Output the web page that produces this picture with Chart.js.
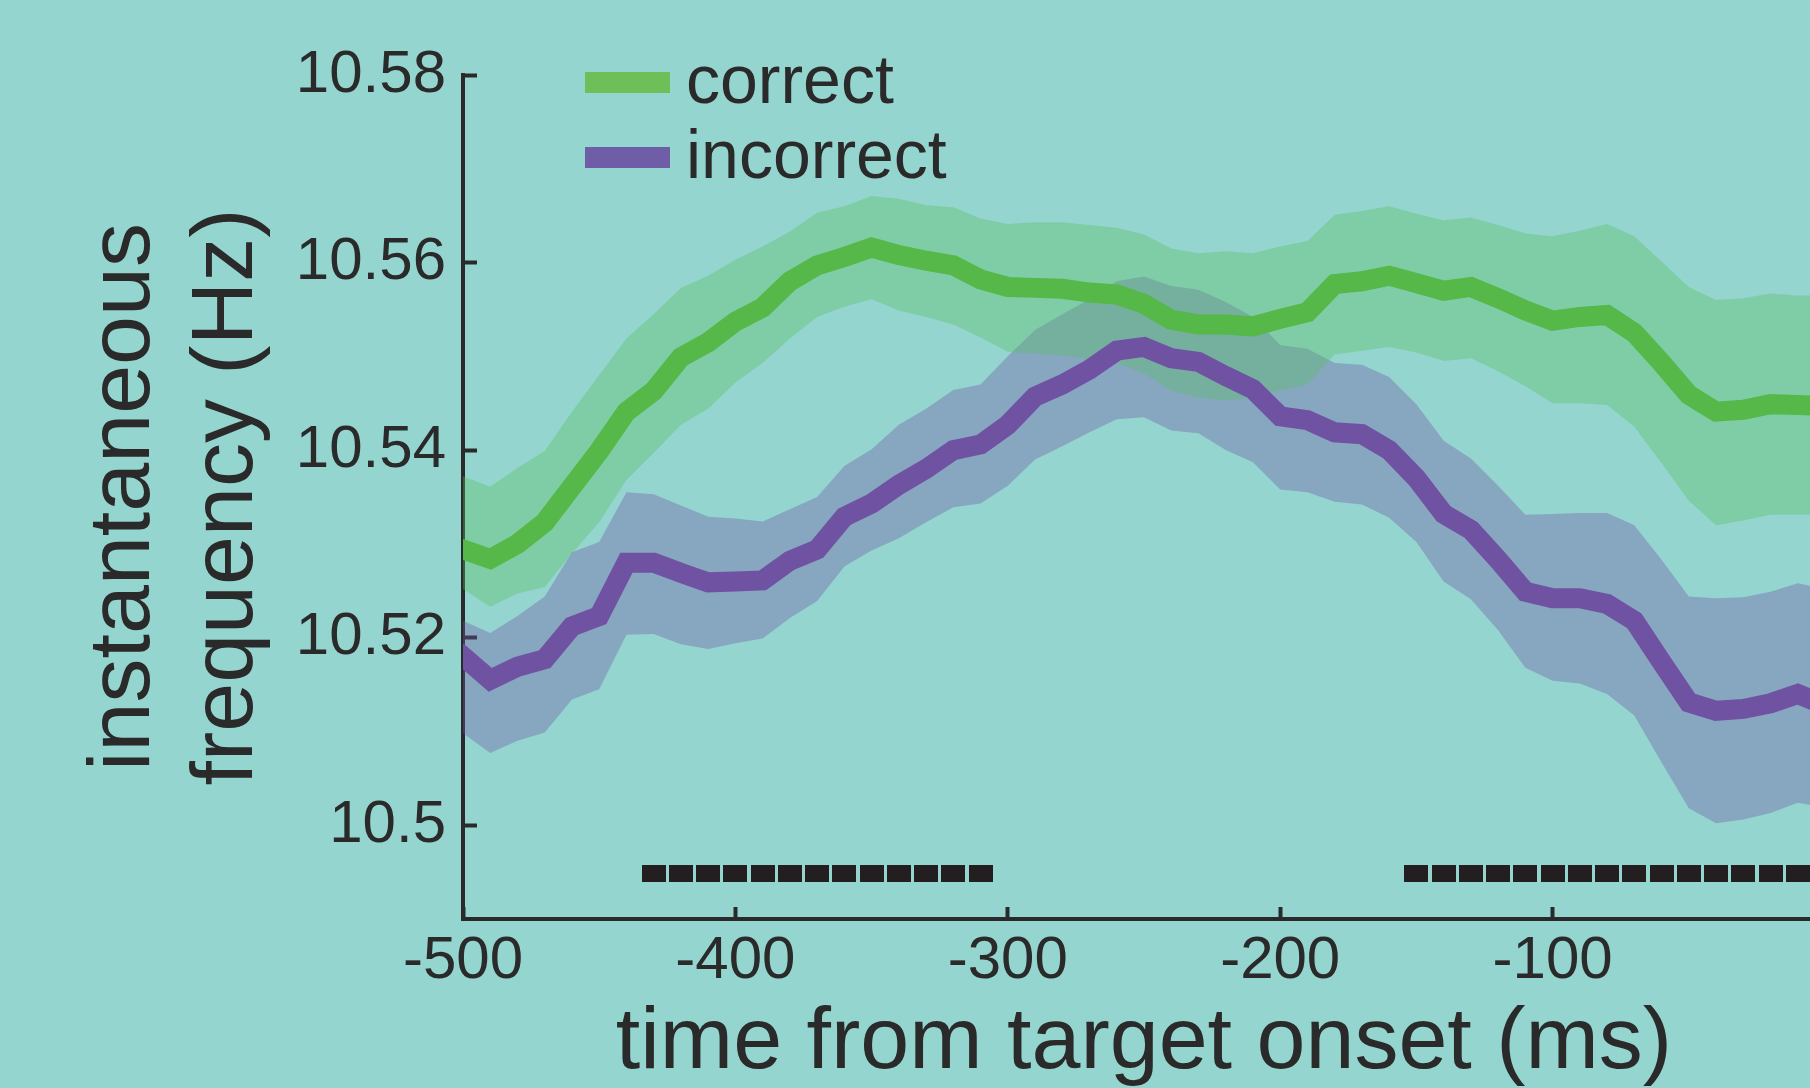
<!DOCTYPE html>
<html>
<head>
<meta charset="utf-8">
<title>instantaneous frequency</title>
<script src="https://cdn.jsdelivr.net/npm/chart.js@4.4.1/dist/chart.umd.min.js"></script>
<style>
  html, body { margin: 0; padding: 0; background: #95d5cf; overflow: hidden; }
  #chart { position: absolute; left: 0; top: 0; }
</style>
</head>
<body>
<canvas id="chart" width="1900" height="1088"></canvas>
<script>
// sample times (ms from target onset), 10 ms steps
var times = [-500, -490, -480, -470, -460, -450, -440, -430, -420, -410,
             -400, -390, -380, -370, -360, -350, -340, -330, -320, -310,
             -300, -290, -280, -270, -260, -250, -240, -230, -220, -210,
             -200, -190, -180, -170, -160, -150, -140, -130, -120, -110,
             -100, -90, -80, -70, -60, -50, -40, -30, -20, -10, 0];

var correctMean = [10.5294, 10.5284, 10.5300, 10.5323, 10.5361, 10.5399, 10.5441, 10.5463, 10.5499, 10.5515,
                   10.5537, 10.5552, 10.5580, 10.5597, 10.5606, 10.5616, 10.5608, 10.5602, 10.5597, 10.5582,
                   10.5574, 10.5573, 10.5572, 10.5568, 10.5566, 10.5556, 10.5539, 10.5534, 10.5534, 10.5532,
                   10.5540, 10.5547, 10.5577, 10.5580, 10.5586, 10.5578, 10.5570, 10.5574, 10.5562, 10.5549,
                   10.5538, 10.5542, 10.5544, 10.5525, 10.5493, 10.5459, 10.5441, 10.5443, 10.5449, 10.5448, 10.5447];
var correctUpper = [10.5372, 10.5361, 10.5381, 10.5399, 10.5441, 10.5480, 10.5519, 10.5545, 10.5573, 10.5586,
                    10.5603, 10.5617, 10.5633, 10.5653, 10.5660, 10.5671, 10.5668, 10.5661, 10.5659, 10.5647,
                    10.5641, 10.5643, 10.5643, 10.5640, 10.5637, 10.5630, 10.5615, 10.5610, 10.5612, 10.5610,
                    10.5617, 10.5623, 10.5651, 10.5655, 10.5660, 10.5652, 10.5645, 10.5648, 10.5640, 10.5631,
                    10.5628, 10.5634, 10.5641, 10.5628, 10.5601, 10.5574, 10.5560, 10.5562, 10.5567, 10.5565, 10.5565];
var correctLower = [10.5252, 10.5233, 10.5247, 10.5254, 10.5290, 10.5323, 10.5368, 10.5397, 10.5427, 10.5444,
                    10.5472, 10.5493, 10.5519, 10.5542, 10.5553, 10.5561, 10.5549, 10.5542, 10.5534, 10.5520,
                    10.5505, 10.5503, 10.5501, 10.5497, 10.5493, 10.5482, 10.5463, 10.5456, 10.5453, 10.5456,
                    10.5464, 10.5470, 10.5502, 10.5506, 10.5510, 10.5504, 10.5495, 10.5498, 10.5484, 10.5468,
                    10.5450, 10.5450, 10.5448, 10.5425, 10.5386, 10.5346, 10.5320, 10.5325, 10.5331, 10.5331, 10.5331];

var incorrectMean = [10.5180, 10.5155, 10.5169, 10.5177, 10.5212, 10.5223, 10.5280, 10.5280, 10.5269, 10.5259,
                     10.5260, 10.5261, 10.5282, 10.5294, 10.5329, 10.5343, 10.5363, 10.5380, 10.5400, 10.5406,
                     10.5427, 10.5457, 10.5470, 10.5486, 10.5506, 10.5510, 10.5498, 10.5494, 10.5479, 10.5465,
                     10.5436, 10.5432, 10.5419, 10.5417, 10.5400, 10.5370, 10.5332, 10.5315, 10.5283, 10.5249,
                     10.5242, 10.5242, 10.5236, 10.5218, 10.5174, 10.5131, 10.5122, 10.5124, 10.5130, 10.5140, 10.5128];
var incorrectUpper = [10.5218, 10.5205, 10.5223, 10.5244, 10.5291, 10.5302, 10.5355, 10.5353, 10.5341, 10.5329,
                      10.5327, 10.5324, 10.5337, 10.5350, 10.5383, 10.5401, 10.5427, 10.5444, 10.5464, 10.5470,
                      10.5500, 10.5528, 10.5545, 10.5561, 10.5580, 10.5585, 10.5575, 10.5571, 10.5558, 10.5542,
                      10.5512, 10.5508, 10.5493, 10.5491, 10.5478, 10.5449, 10.5410, 10.5391, 10.5362, 10.5331,
                      10.5332, 10.5333, 10.5333, 10.5320, 10.5283, 10.5244, 10.5242, 10.5243, 10.5249, 10.5258, 10.5252];
var incorrectLower = [10.5098, 10.5077, 10.5090, 10.5099, 10.5134, 10.5145, 10.5203, 10.5204, 10.5193, 10.5188,
                      10.5194, 10.5199, 10.5221, 10.5239, 10.5276, 10.5293, 10.5306, 10.5323, 10.5339, 10.5343,
                      10.5362, 10.5390, 10.5404, 10.5419, 10.5433, 10.5435, 10.5421, 10.5418, 10.5400, 10.5387,
                      10.5358, 10.5355, 10.5345, 10.5342, 10.5328, 10.5302, 10.5260, 10.5241, 10.5208, 10.5168,
                      10.5154, 10.5151, 10.5140, 10.5117, 10.5067, 10.5018, 10.5002, 10.5006, 10.5013, 10.5024, 10.5019];

// significant time points (black squares)
var sigTimes = [-430, -420, -410, -400, -390, -380, -370, -360, -350, -340, -330, -320, -310,
                -150, -140, -130, -120, -110, -100, -90, -80, -70, -60, -50, -40, -30, -20, -10, 0];
var sigLevel = 10.4948;

var seriesNames = ['correct', 'incorrect'];
var xTicks = [-500, -400, -300, -200, -100, 0];
var xTickLabels = ['-500', '-400', '-300', '-200', '-100', '0'];
var yTicks = [10.5, 10.52, 10.54, 10.56, 10.58];
var yTickLabels = ['10.5', '10.52', '10.54', '10.56', '10.58'];

var ink = '#2a2a2a';
var fontFamily = "'Liberation Sans', Arial, Helvetica, sans-serif";

function pts(vals) {
    return times.map(function (t, i) { return { x: t, y: vals[i] }; });
}

// little black bar used as marker
var sigMark = document.createElement('canvas');
sigMark.width = 24;
sigMark.height = 17;
var mctx = sigMark.getContext('2d');
mctx.fillStyle = '#231f20';
mctx.fillRect(0, 0, 24, 17);

var legendBoxes = {
    id: 'legendBoxes',
    afterDraw: function (chart) {
        var ctx = chart.ctx, area = chart.chartArea;
        var cols = ['#6fbf58', '#6f5ea7'];
        ctx.save();
        ctx.font = '68px ' + fontFamily;
        ctx.textBaseline = 'alphabetic';
        ctx.textAlign = 'left';
        seriesNames.forEach(function (name, i) {
            var y = area.top - 3 + i * 75;
            ctx.fillStyle = cols[i];
            ctx.fillRect(area.left + 122, y, 85, 21);
            ctx.fillStyle = ink;
            ctx.fillText(name, area.left + 223, y + 31);
        });
        ctx.restore();
    }
};

var ctx = document.getElementById('chart').getContext('2d');
var chart = new Chart(ctx, {
    type: 'line',
    data: {
        datasets: [
            { label: seriesNames[0], data: pts(correctMean), borderColor: '#55b848', borderWidth: 20,
              borderCapStyle: 'square', pointRadius: 0, fill: false, tension: 0 },
            { label: seriesNames[1], data: pts(incorrectMean), borderColor: '#7052a3', borderWidth: 20,
              borderCapStyle: 'square', pointRadius: 0, fill: false, tension: 0 },
            { label: 'correct upper', data: pts(correctUpper), borderColor: 'transparent', borderWidth: 0,
              pointRadius: 0, backgroundColor: 'rgba(85,190,95,0.36)', fill: '+1', tension: 0 },
            { label: 'correct lower', data: pts(correctLower), borderColor: 'transparent', borderWidth: 0,
              pointRadius: 0, fill: false, tension: 0 },
            { label: 'incorrect upper', data: pts(incorrectUpper), borderColor: 'transparent', borderWidth: 0,
              pointRadius: 0, backgroundColor: 'rgba(112,88,165,0.37)', fill: '+1', tension: 0 },
            { label: 'incorrect lower', data: pts(incorrectLower), borderColor: 'transparent', borderWidth: 0,
              pointRadius: 0, fill: false, tension: 0 },
            { label: 'significant', data: sigTimes.map(function (t) { return { x: t, y: sigLevel }; }),
              showLine: false, pointStyle: sigMark, pointRadius: 12, fill: false }
        ]
    },
    options: {
        responsive: false,
        animation: false,
        devicePixelRatio: 1,
        layout: { padding: { left: 0, right: 75, top: 75, bottom: 0 } },
        plugins: {
            legend: { display: false },
            tooltip: { enabled: false }
        },
        scales: {
            x: {
                type: 'linear',
                position: 'bottom',
                min: -500,
                max: 0,
                grid: { drawOnChartArea: false, drawTicks: true, tickLength: -12, tickWidth: 4, tickColor: ink },
                border: { display: true, color: ink, width: 4 },
                ticks: {
                    color: ink,
                    padding: 18,
                    maxRotation: 0,
                    autoSkip: false,
                    font: { family: fontFamily, size: 60 },
                    callback: function (v, i) { return xTickLabels[i]; }
                },
                title: {
                    display: true,
                    text: 'time from target onset (ms)',
                    color: ink,
                    padding: 0,
                    font: { family: fontFamily, size: 88, lineHeight: 1 }
                },
                afterBuildTicks: function (scale) {
                    scale.ticks = xTicks.map(function (v) { return { value: v }; });
                },
                afterFit: function (scale) { scale.height = 169; }
            },
            y: {
                type: 'linear',
                position: 'left',
                min: 10.49,
                max: 10.58,
                grid: { drawOnChartArea: false, drawTicks: true, tickLength: -14, tickWidth: 4, tickColor: ink },
                border: { display: true, color: ink, width: 4 },
                ticks: {
                    color: ink,
                    padding: 31,
                    font: { family: fontFamily, size: 60 },
                    callback: function (v, i) { return yTickLabels[i]; }
                },
                title: {
                    display: true,
                    text: ['instantaneous', 'frequency (Hz)'],
                    color: ink,
                    padding: { top: 73, bottom: 0 },
                    font: { family: fontFamily, size: 88, lineHeight: 1.17 }
                },
                afterBuildTicks: function (scale) {
                    scale.ticks = yTicks.map(function (v) { return { value: v }; });
                },
                afterFit: function (scale) { scale.width = 463; }
            }
        }
    },
    plugins: [legendBoxes]
});
</script>
</body>
</html>
